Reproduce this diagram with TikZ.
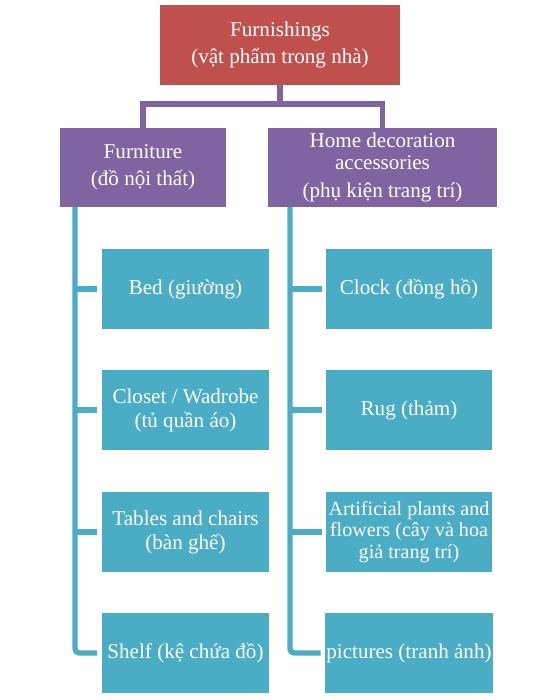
\documentclass[tikz,border=0pt]{standalone}
\usepackage{fontspec}
\setmainfont{Liberation Serif}
\usetikzlibrary{calc}

\definecolor{rootred}{HTML}{C0504D}
\definecolor{levelpurple}{HTML}{8064A2}
\definecolor{itemteal}{HTML}{4BACC6}

\tikzset{
	rootbox/.style={shape=rectangle,fill=rootred,text=white,minimum width=6cm,minimum height=2cm,align=center,font=\fontsize{15}{19}\selectfont},
	levelbox/.style={shape=rectangle,fill=levelpurple,text=white,minimum height=1.975cm,align=center,font=\fontsize{15}{19}\selectfont},
	itembox/.style={shape=rectangle,fill=itemteal,text=white,minimum width=4.15cm,minimum height=2cm,inner sep=1pt,align=center,font=\fontsize{15}{17}\selectfont},
	bracket/.style={draw=levelpurple,line width=3.6pt},
	spine/.style={draw=itemteal,line width=3.8pt,rounded corners=3pt}
}

\begin{document}
\begin{tikzpicture}[x=0.025cm,y=-0.025cm]
	
	\useasboundingbox (0,0) rectangle (557,700);
	
	\node[rootbox] (root) at (280, 45) {Furnishings\\(vật phẩm trong nhà)};
	
	\node[levelbox,minimum width=4.15cm]  (furn) at (143, 167.5)   {Furniture\\(đồ nội thất)};
	\node[levelbox,minimum width=5.725cm,font=\fontsize{15}{15}\selectfont] (deco) at (382.5, 167.5) {Home decoration\\accessories\\[5pt](phụ kiện trang trí)};
	
	\node[itembox] (bed)    at (185.5, 289) {Bed (giường)};
	\node[itembox] (closet) at (185.5, 410) {Closet / Wadrobe\\(tủ quần áo)};
	\node[itembox] (tables) at (185.5, 532) {Tables and chairs\\(bàn ghế)};
	\node[itembox] (shelf)  at (185.5, 653) {Shelf (kệ chứa đồ)};
	
	\node[itembox] (clock)   at (409, 289) {Clock (đồng hồ)};
	\node[itembox] (rug)     at (409, 410) {Rug (thảm)};
	\node[itembox,font=\fontsize{14.3}{15.5}\selectfont] (plants) at (409, 532) {Artificial plants and\\flowers (cây và hoa\\giả trang trí)};
	\node[itembox] (pictures) at (409, 653) {pictures (tranh ảnh)};
	
	% root to second level
	\coordinate (bar) at (280, 104);
	\draw[bracket] (root.south) -- (bar);
	\draw[bracket] (furn.north) |- (bar) -| (deco.north);
	
	% furniture items
	\coordinate (lspine) at (75, 207);
	\draw[spine] (lspine) |- ($(shelf.west)+(-5,0)$);
	\foreach \n in {bed,closet,tables}
		\draw[spine] (lspine |- \n.west) -- ($(\n.west)+(-5,0)$);
	
	% decoration items
	\coordinate (rspine) at (290, 207);
	\draw[spine] (rspine) |- ($(pictures.west)+(-4,0)$);
	\foreach \n in {clock,rug,plants}
		\draw[spine] (rspine |- \n.west) -- ($(\n.west)+(-4,0)$);
	
\end{tikzpicture}
\end{document}
